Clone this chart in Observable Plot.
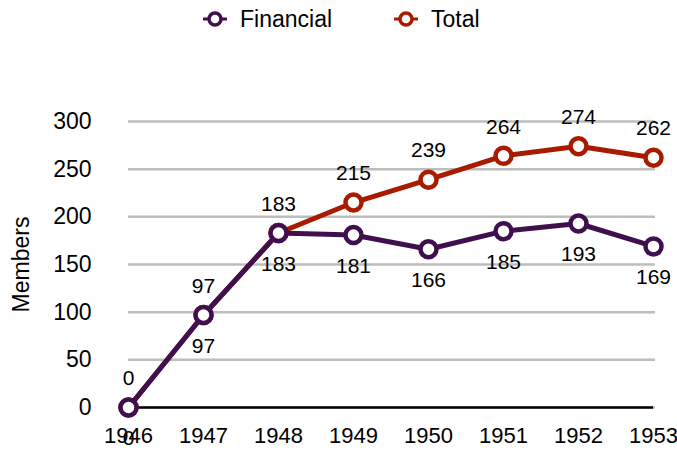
<!DOCTYPE html>
<html>
<head>
<meta charset="utf-8">
<script src="https://cdn.jsdelivr.net/npm/d3@7"></script>
<script src="https://cdn.jsdelivr.net/npm/@observablehq/plot@0.6"></script>
<style>
  html, body { margin: 0; padding: 0; background: white; }
  body { font-family: "Liberation Sans", Helvetica, Arial, sans-serif; }
  #wrap { position: relative; width: 677px; height: 453px; }
  #legend { position: absolute; left: 0; top: 0; width: 677px; height: 40px; }
  .item { position: absolute; top: 6px; display: flex; align-items: center; font-size: 23px; color: #000; height: 26px; }
  .item svg { margin-right: 12px; }
  #chart { position: absolute; left: 0; top: 40px; }
</style>
</head>
<body>
<div id="wrap">
  <div id="legend"></div>
  <div id="chart"></div>
</div>
<script>
const years = [1946, 1947, 1948, 1949, 1950, 1951, 1952, 1953];
const financial = [0, 97, 183, 181, 166, 185, 193, 169];
const total = [0, 97, 183, 215, 239, 264, 274, 262];
const yTicks = [0, 50, 100, 150, 200, 250, 300];
const seriesNames = ["Financial", "Total"];
const seriesColors = ["#40104e", "#a81b00"];

const rows = years.map((yr, i) => ({year: yr, financial: financial[i], total: total[i]}));

// legend
const legend = document.getElementById("legend");
const legendX = [202, 393];
seriesNames.forEach((name, i) => {
  const d = document.createElement("div");
  d.className = "item";
  d.style.left = legendX[i] + "px";
  d.innerHTML = `<svg width="26" height="26"><line x1="1" x2="25" y1="13" y2="13" stroke="${seriesColors[i]}" stroke-width="3"/><circle cx="13" cy="13" r="6" fill="white" stroke="${seriesColors[i]}" stroke-width="3.5"/></svg><span>${name}</span>`;
  legend.appendChild(d);
});

const chart = Plot.plot({
  width: 677,
  height: 413,
  marginLeft: 128,
  marginRight: 24,
  marginTop: 81,
  marginBottom: 46,
  x: {type: "point", domain: years, padding: 0},
  y: {domain: [0, 300]},
  style: {fontFamily: "'Liberation Sans', Helvetica, Arial, sans-serif", fontSize: "21px", color: "#000", background: "white"},
  marks: [
    Plot.gridY(yTicks, {stroke: "#bdbdbd", strokeOpacity: 1, strokeWidth: 2.5, insetRight: -2}),
    Plot.ruleY([0], {stroke: "#000", strokeWidth: 2.5}),
    Plot.axisY({ticks: yTicks, tickSize: 0, tickPadding: 37, label: "Members", labelAnchor: "center", labelArrow: "none", labelOffset: 116, fontSize: 23}),
    Plot.axisX({tickSize: 0, tickPadding: 20, tickFormat: d => String(d), label: null, fontSize: 22}),
    Plot.line(rows, {x: "year", y: "total", stroke: seriesColors[1], strokeWidth: 5}),
    Plot.dot(rows, {x: "year", y: "total", r: 8, fill: "white", stroke: seriesColors[1], strokeWidth: 4.5}),
    Plot.line(rows, {x: "year", y: "financial", stroke: seriesColors[0], strokeWidth: 5}),
    Plot.dot(rows, {x: "year", y: "financial", r: 8, fill: "white", stroke: seriesColors[0], strokeWidth: 4.5}),
    Plot.text(rows, {x: "year", y: "total", text: d => String(d.total), dy: -29, fill: "#000", fontSize: 21}),
    Plot.text(rows, {x: "year", y: "financial", text: d => String(d.financial), dy: 31, fill: "#000", fontSize: 21})
  ]
});
document.getElementById("chart").appendChild(chart);
</script>
</body>
</html>
